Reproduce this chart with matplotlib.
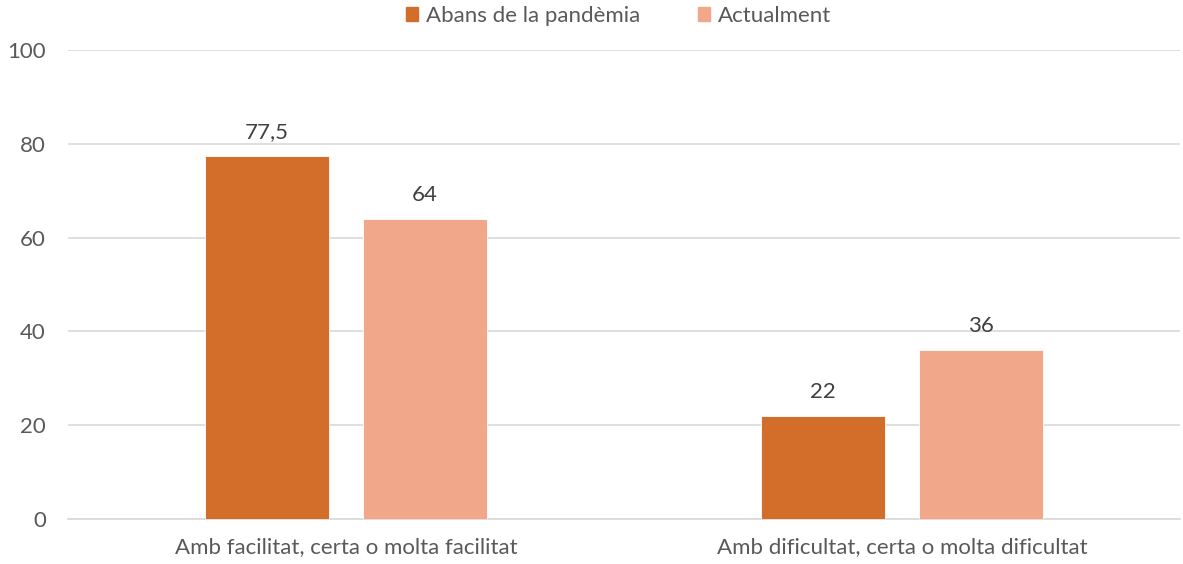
import numpy as np
import matplotlib.pyplot as plt
from matplotlib.patches import Patch

plt.rcParams['font.family'] = ['Lato', 'DejaVu Sans']

categories = ['Amb facilitat, certa o molta facilitat', 'Amb dificultat, certa o molta dificultat']
series = ['Abans de la pandèmia', 'Actualment']
abans = [77.5, 22]
actualment = [64, 36]
labels_abans = ['77,5', '22']
labels_actual = ['64', '36']
colors = ['#D26E2A', '#F1A88A']

fig = plt.figure(figsize=(11.83, 5.64), dpi=100)
ax = fig.add_axes([0.0575, 0.0798, 0.94, 0.8315])

x = np.arange(len(categories))
w = 0.223
off = 0.142
b1 = ax.bar(x - off, abans, w, color=colors[0], edgecolor='white', linewidth=0.6, zorder=3)
b2 = ax.bar(x + off, actualment, w, color=colors[1], edgecolor='white', linewidth=0.6, zorder=3)

for bars, labs in [(b1, labels_abans), (b2, labels_actual)]:
    for b, t in zip(bars, labs):
        ax.annotate(t, (b.get_x() + b.get_width() / 2, b.get_height()),
                    xytext=(0, 10), textcoords='offset points', ha='center', va='bottom',
                    fontsize=16, color='#404040')

ax.set_xlim(-0.5, 1.5)
ax.set_ylim(0, 100)
ax.set_yticks(range(0, 101, 20))
ax.yaxis.grid(True, color='#D9D9D9', linewidth=1.2, zorder=0)
ax.set_xticks(x)
ax.set_xticklabels(categories)
ax.tick_params(axis='both', length=0, labelsize=16, colors='#595959')
ax.tick_params(axis='y', pad=16)
ax.tick_params(axis='x', pad=13)
for s in ['top', 'right', 'left']:
    ax.spines[s].set_visible(False)
ax.spines['bottom'].set_color('#D9D9D9')
ax.spines['bottom'].set_linewidth(1.2)

handles = [Patch(color=c, label=s) for c, s in zip(colors, series)]
fig.legend(handles=handles, loc='center', bbox_to_anchor=(0.523, 0.972), ncol=2, frameon=False,
           fontsize=16, handlelength=0.55, handleheight=0.55, columnspacing=2.6, handletextpad=0.36,
           labelcolor='#595959')

plt.savefig('out.png', dpi=100)
